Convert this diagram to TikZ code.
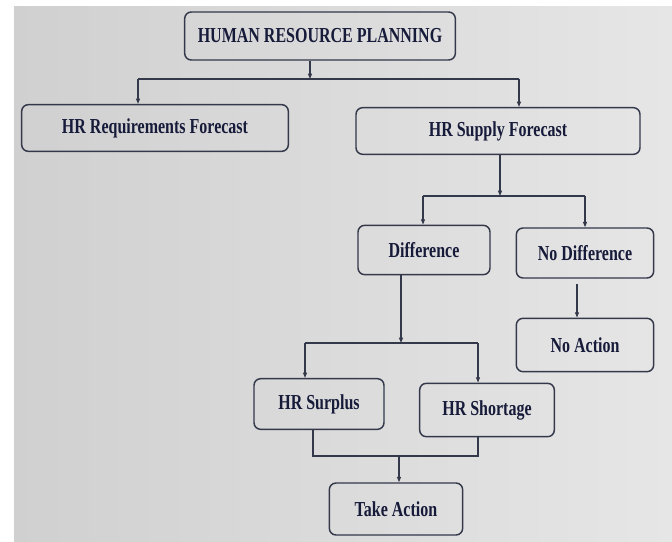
\documentclass[tikz,border=0pt]{standalone}
\usepackage{fontspec}
\usetikzlibrary{arrows.meta}
\newfontfamily\chartfont[FakeStretch=0.75]{Liberation Serif}
\definecolor{inkblue}{HTML}{171B3A}
\definecolor{frame}{HTML}{33384A}
\definecolor{paperl}{HTML}{D0D0D0}
\definecolor{paperr}{HTML}{E6E6E6}

\begin{document}
\begin{tikzpicture}[x=0.75pt,y=-0.75pt,
  box/.style={draw=frame,line width=1.1pt,rounded corners=5pt,
    text=inkblue,font=\chartfont\bfseries\fontsize{16}{18}\selectfont,
    inner sep=0pt},
  link/.style={draw=frame,line width=0.9pt},
  tip/.style={link,-{Triangle[length=4pt,width=3pt]}}]
  \useasboundingbox (0,0) rectangle (672,542);
  % screen background
  \fill[white] (0,0) rectangle (672,542);
  \shade[left color=paperl,right color=paperr] (14,7) rectangle (672,542);

  % top level
  \node[box,minimum width=203pt,minimum height=36pt] (hrp) at (320,36) {HUMAN RESOURCE PLANNING};
  \node[box,minimum width=200pt,minimum height=35pt] (req) at (155,128) {HR Requirements Forecast};
  \node[box,minimum width=213pt,minimum height=35pt] (supply) at (498,131) {HR Supply Forecast};
  \coordinate (t0) at (310,79); \coordinate (tl) at (138,79); \coordinate (tr) at (519,79);
  \draw[tip] (t0 |- hrp.south) -- (t0);
  \draw[link] (tl) -- (tr);
  \draw[tip] (tl) -- (tl |- req.north);
  \draw[tip] (tr) -- (tr |- supply.north);

  % supply compared with requirements
  \node[box,minimum width=99pt,minimum height=37pt] (diff) at (424,250) {Difference};
  \node[box,minimum width=103pt,minimum height=37.5pt] (nodiff) at (585,253) {No Difference};
  \node[box,minimum width=103pt,minimum height=40pt] (noact) at (585,345) {No Action};
  \coordinate (m0) at (500,196); \coordinate (ml) at (423,196); \coordinate (mr) at (585,196);
  \draw[tip] (m0 |- supply.south) -- (m0);
  \draw[link] (ml) -- (mr);
  \draw[tip] (ml) -- (ml |- diff.north);
  \draw[tip] (mr) -- (mr |- nodiff.north);
  \coordinate (n0) at (577,300);
  \draw[tip] ([yshift=-4pt]n0 |- nodiff.south) -- (n0 |- noact.north);

  % surplus or shortage
  \node[box,minimum width=97.5pt,minimum height=38pt] (surplus) at (319,404) {HR Surplus};
  \node[box,minimum width=101pt,minimum height=40pt] (shortage) at (487,410) {HR Shortage};
  \coordinate (d0) at (401,343); \coordinate (dl) at (305,343); \coordinate (dr) at (478,343);
  \draw[tip] (d0 |- diff.south) -- (d0);
  \draw[link] (dl) -- (dr);
  \draw[tip] (dl) -- (dl |- surplus.north);
  \draw[tip] (dr) -- (dr |- shortage.north);

  % both lead to action
  \node[box,minimum width=100pt,minimum height=39pt] (act) at (396,509) {Take Action};
  \coordinate (bl) at (313,456); \coordinate (br) at (478,456); \coordinate (b0) at (399,456);
  \draw[link] (bl |- surplus.south) -- (bl) -- (br) -- (br |- shortage.south);
  \draw[tip] (b0) -- (b0 |- act.north);
\end{tikzpicture}
\end{document}
